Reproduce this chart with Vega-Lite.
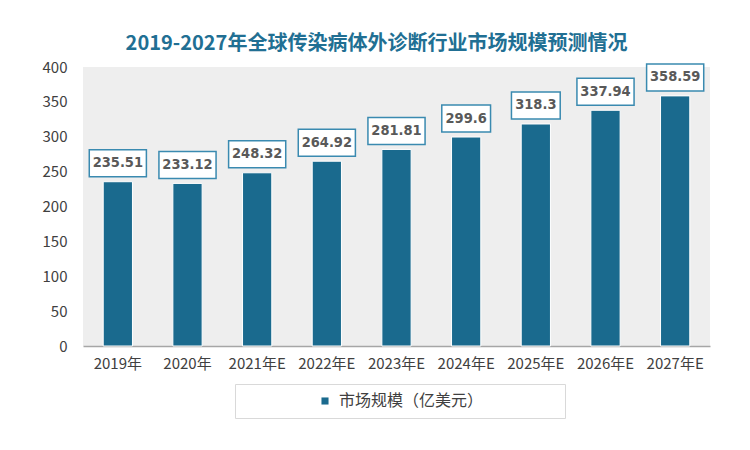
{
  "$schema": "https://vega.github.io/schema/vega-lite/v6.json",
  "autosize": {"type": "none"},
  "width": 627,
  "height": 279,
  "padding": {"left": 83, "top": 67, "right": 40, "bottom": 104},
  "background": "#ffffff",
  "title": {
    "text": "2019-2027年全球传染病体外诊断行业市场规模预测情况",
    "font": "Noto Sans CJK SC",
    "fontSize": 20,
    "fontWeight": "bold",
    "color": "#216f93",
    "anchor": "middle",
    "frame": "group",
    "dx": -20,
    "offset": 6
  },
  "data": {
    "values": [
      {"year": "2019年", "value": 235.51},
      {"year": "2020年", "value": 233.12},
      {"year": "2021年E", "value": 248.32},
      {"year": "2022年E", "value": 264.92},
      {"year": "2023年E", "value": 281.81},
      {"year": "2024年E", "value": 299.6},
      {"year": "2025年E", "value": 318.3},
      {"year": "2026年E", "value": 337.94},
      {"year": "2027年E", "value": 358.59}
    ]
  },
  "encoding": {
    "x": {
      "field": "year",
      "type": "nominal",
      "sort": null,
      "title": null,
      "scale": {"paddingInner": 0, "paddingOuter": 0},
      "axis": {
        "labelAngle": 0,
        "labelFont": "Noto Sans CJK SC",
        "labelFontSize": 15,
        "labelColor": "#404040",
        "labelPadding": 10,
        "ticks": false,
        "domainColor": "#a6a6a6",
        "domainWidth": 1.5,
        "grid": false
      }
    },
    "y": {
      "field": "value",
      "type": "quantitative",
      "title": null,
      "scale": {"domain": [0, 400], "nice": false},
      "axis": {
        "values": [0, 50, 100, 150, 200, 250, 300, 350, 400],
        "labelFont": "Noto Sans CJK SC",
        "labelFontSize": 15,
        "labelColor": "#404040",
        "labelPadding": 16,
        "ticks": false,
        "domain": false,
        "grid": false
      }
    }
  },
  "layer": [
    {
      "mark": {"type": "bar", "width": {"band": 0.42}, "stroke": "#ffffff", "strokeWidth": 1},
      "encoding": {
        "color": {
          "datum": "市场规模（亿美元）",
          "type": "nominal",
          "scale": {"range": ["#1a6a8e"]},
          "legend": {
            "orient": "none",
            "legendX": 152,
            "legendY": 317,
            "title": null,
            "symbolType": "square",
            "symbolSize": 50,
            "symbolOffset": 73,
            "symbolStrokeWidth": 0,
            "labelFont": "Noto Sans CJK SC",
            "labelFontSize": 16,
            "labelColor": "#404040",
            "labelOffset": 6,
            "labelLimit": 400,
            "labelExpr": "datum.label + '　　　　　\u200b'",
            "padding": 9,
            "fillColor": "#ffffff",
            "strokeColor": "#d9d9d9"
          }
        }
      }
    },
    {
      "transform": [{"filter": "length(toString(datum.value)) >= 6"}],
      "mark": {"type": "bar", "width": {"band": 0.82}, "fill": "#ffffff", "stroke": "#3a8ab0", "strokeWidth": 1.5, "yOffset": -5, "y2Offset": -32},
      "encoding": {"y2": {"field": "value"}}
    },
    {
      "transform": [{"filter": "length(toString(datum.value)) < 6"}],
      "mark": {"type": "bar", "width": {"band": 0.70}, "fill": "#ffffff", "stroke": "#3a8ab0", "strokeWidth": 1.5, "yOffset": -5, "y2Offset": -32},
      "encoding": {"y2": {"field": "value"}}
    },
    {
      "mark": {"type": "text", "font": "DejaVu Sans Condensed", "fontWeight": "bold", "fontSize": 14.5, "color": "#595959", "baseline": "middle", "align": "center", "yOffset": -18.5},
      "encoding": {"text": {"field": "value", "type": "quantitative"}}
    }
  ],
  "config": {
    "view": {"fill": "#eeeeee", "stroke": null}
  }
}
